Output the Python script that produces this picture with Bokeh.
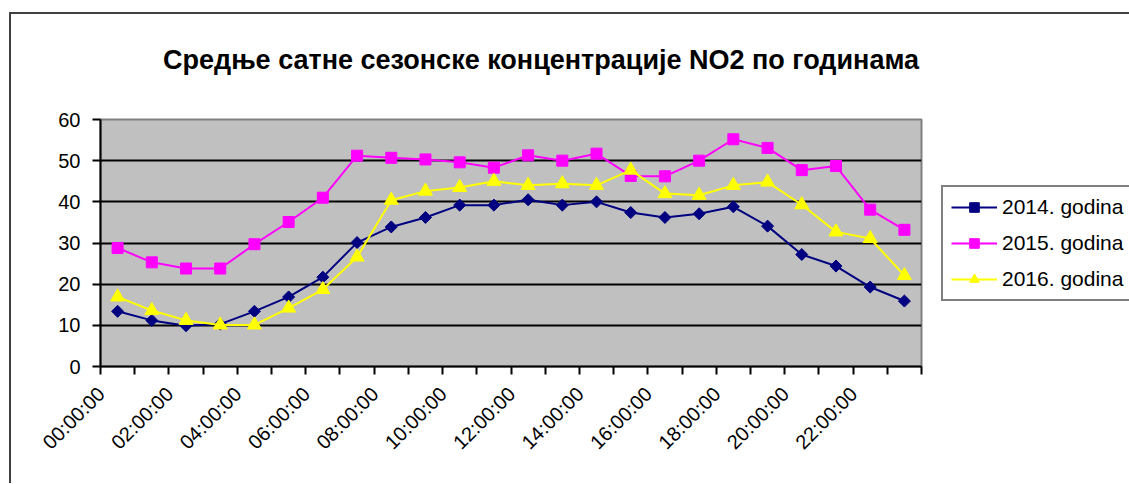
from bokeh.plotting import figure
from bokeh.models import (Range1d, FixedTicker, Legend, LegendItem, LinearAxis, Div)
from bokeh.layouts import column
from bokeh.embed import file_html
from bokeh.resources import INLINE
import math

title_text = "Средње сатне сезонске концентрације NO2 по годинама"
hours = list(range(24))
tick_labels = ["%02d:00:00" % h for h in range(0, 24, 2)]
series_names = ["2014. godina", "2015. godina", "2016. godina"]
y2014 = [13.4, 11.2, 9.9, 10.3, 13.4, 16.9, 21.7, 30.1, 33.9, 36.2, 39.2, 39.2,
         40.5, 39.2, 40.0, 37.4, 36.2, 37.1, 38.8, 34.1, 27.2, 24.4, 19.3, 15.9]
y2015 = [28.8, 25.3, 23.8, 23.8, 29.7, 35.1, 41.0, 51.2, 50.7, 50.3, 49.6, 48.3,
         51.3, 50.0, 51.7, 46.3, 46.2, 50.0, 55.2, 53.1, 47.7, 48.7, 38.1, 33.2]
y2016 = [16.9, 13.6, 11.2, 10.1, 10.1, 14.2, 18.7, 26.6, 40.4, 42.6, 43.5, 45.0,
         44.0, 44.4, 44.0, 47.7, 42.0, 41.6, 44.0, 44.8, 39.3, 32.7, 31.1, 22.1]

FONT = "Liberation Sans"

title_div = Div(
    text=('<div style="font-family:\'Liberation Sans\',Arial,sans-serif;font-weight:bold;'
          'font-size:27px;line-height:32px;white-space:nowrap;color:black;'
          'margin-left:152px;padding-top:30px;">' + title_text + '</div>'),
    width=1100, height=80, margin=(0, 0, 0, 0))

p = figure(frame_width=821, frame_height=247, output_backend="svg", toolbar_location=None,
           x_range=Range1d(0, 24), y_range=Range1d(0, 60), x_axis_location=None,
           min_border_left=89, min_border_right=200, min_border_top=25, min_border_bottom=117)
p.background_fill_color = "#C0C0C0"
p.border_fill_color = "white"
p.outline_line_color = "#808080"
p.outline_line_width = 2

# x axis: tick marks at category boundaries
xa = LinearAxis(ticker=FixedTicker(ticks=list(range(25))))
xa.major_label_overrides = {i: "" for i in range(25)}
xa.major_label_text_font_size = "0px"
xa.major_label_standoff = 0
# x axis labels
xl = LinearAxis(ticker=FixedTicker(ticks=[h + 0.02 for h in range(0, 24, 2)]))
xl.major_label_overrides = {h + 0.02: tick_labels[h // 2] for h in range(0, 24, 2)}
xl.major_label_orientation = math.pi / 4
xl.axis_line_color = None
xl.major_tick_line_color = None
xl.major_tick_out = 0
xl.major_tick_in = 0
xl.major_label_standoff = 16
p.add_layout(xa, "below")
p.add_layout(xl, "below")

p.yaxis.ticker = FixedTicker(ticks=list(range(0, 61, 10)))
for ax in (xa, xl, p.yaxis[0]):
    if ax is not xl:
        ax.axis_line_color = "black"
        ax.axis_line_width = 2
        ax.major_tick_line_color = "black"
        ax.major_tick_line_width = 2
        ax.major_tick_out = 8
        ax.major_tick_in = 0
    ax.minor_tick_line_color = None
    ax.major_label_text_font = FONT
    ax.major_label_text_color = "black"
    if ax is not xa:
        ax.major_label_text_font_size = "20px"
p.yaxis.major_label_standoff = 12

p.xgrid.grid_line_color = None
p.ygrid.grid_line_color = "black"
p.ygrid.grid_line_width = 2

xs = [h + 0.5 for h in hours]
items = []
specs = [(y2014, "#000080", "square", 8.5, math.pi / 4),
         (y2015, "#FF00FF", "square", 11, 0.0),
         (y2016, "#FFFF00", "triangle", 14, 0.0)]
for name, (ys, col, mk, sz, ang) in zip(series_names, specs):
    l = p.line(xs, ys, line_color=col, line_width=2)
    s = p.scatter(xs, ys, marker=mk, size=sz, angle=ang, fill_color=col, line_color=col)
    items.append(LegendItem(label=name, renderers=[l, s]))

legend = Legend(items=items, location="center_left")
legend.label_text_font = FONT
legend.label_text_font_size = "21px"
legend.label_text_color = "black"
legend.glyph_width = 46
legend.glyph_height = 24
legend.label_height = 24
legend.spacing = 12
legend.padding = 8
legend.margin = 20
legend.label_standoff = 5
legend.border_line_color = "black"
legend.border_line_width = 2
legend.background_fill_color = "white"
legend.background_fill_alpha = 1
p.add_layout(legend, "right")

layout = column(title_div, p, spacing=0)
layout.styles = {"margin-left": "9px", "margin-top": "12px",
                 "border-left": "2px solid #404040", "border-top": "2px solid #404040",
                 "background-color": "white"}

open("out.html", "w").write(file_html(layout, INLINE))
